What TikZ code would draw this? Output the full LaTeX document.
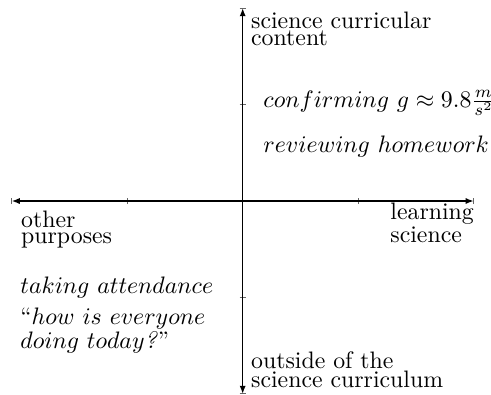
\documentclass[tikz,border=0pt]{standalone}
\usepackage{tikz}
\usetikzlibrary{arrows.meta}

\begin{document}
\begin{tikzpicture}[x=48.5pt, y=40.5pt,
    axis/.style={semithick, {Latex[length=3.4pt,width=2.6pt]}-{Latex[length=3.4pt,width=2.6pt]}},
    tick/.style={black!60, thin},
    lbl/.style={inner sep=0pt, align=left, font=\fontsize{10pt}{7pt}\selectfont}]
        \useasboundingbox (-2.101,-2.007) rectangle (2.150,2.084);
        % Axes ends
        \coordinate (west) at (-2,0);
        \coordinate (east) at (2,0);
        \coordinate (south) at (0,-2);
        \coordinate (north) at (0,2);
        % Tick marks
        \foreach \t in {-2,-1,1,2} {
          \draw[tick] (\t,0) ++(0,-1.3pt) -- ++(0,2.6pt);
          \draw[tick] (0,\t) ++(-1.3pt,0) -- ++(2.6pt,0);
        }
        \draw[axis] (west) -- (east);
        \draw[axis] (south) -- (north);

        % Axis labels (base = last line)
        \node[lbl, anchor=base west] (content) at (0.069,1.617) {science curricular\\content};
        \node[lbl, anchor=base west] (outside) at (0.069,-1.931) {outside of the\\science curriculum};
        \node[lbl, anchor=base west] (other) at (-1.922,-0.443) {other\\purposes};
        \node[lbl, anchor=base west] (learning) at (1.275,-0.433) {learning\\science};

        % Examples
        \node[lbl, anchor=base west] (confirm) at (0.176,0.973) {$confirming\ g\approx 9.8\frac{m}{s^2}$};
        \node[lbl, anchor=base west] (review) at (0.176,0.506) {$reviewing\ homework$};
        \node[lbl, anchor=base west] (attend) at (-1.928,-0.958) {$taking\ attendance$};
        \node[lbl, anchor=base west] (howis) at (-1.928,-1.533) {``$how\ is\ everyone$\\$doing\ today$\textit{?}''};
      \end{tikzpicture}
\end{document}
